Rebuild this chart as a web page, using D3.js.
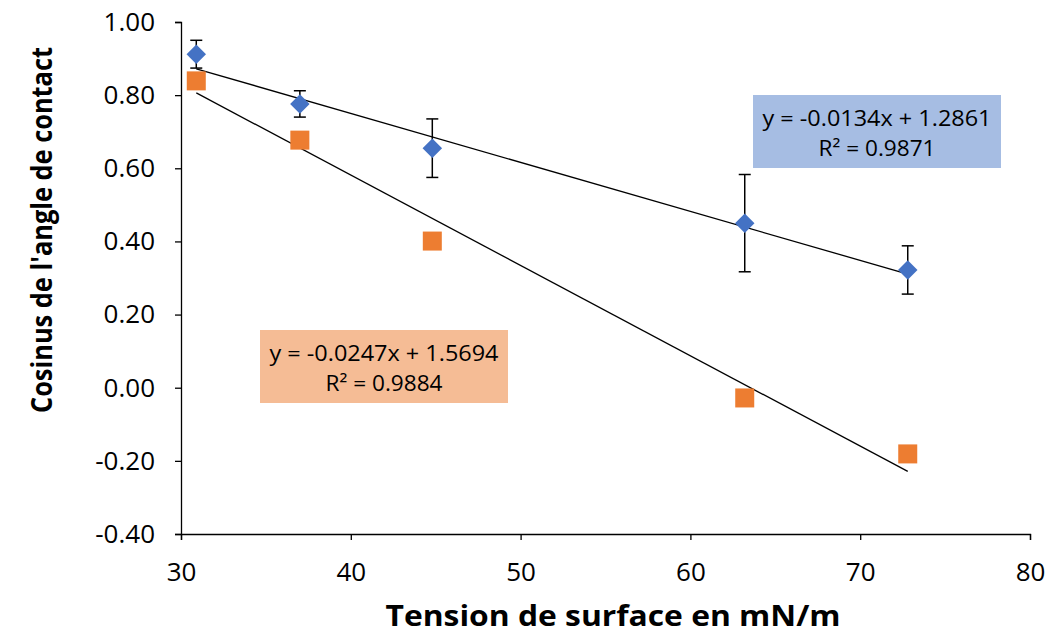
<!DOCTYPE html>
<html>
<head>
<meta charset="utf-8">
<script src="https://cdn.jsdelivr.net/npm/d3@7"></script>
<style>
  body { margin: 0; background: #fff; }
  text { font-family: "Open Sans", "Noto Sans", sans-serif; fill: #000; }
</style>
</head>
<body>
<svg id="chart" width="1049" height="636"></svg>
<script>
// surface tension (mN/m) and cos(theta)
var tension = [30.9, 37.0, 44.8, 63.2, 72.8];
var cosBlue = [0.912, 0.776, 0.655, 0.450, 0.322];
var errBlue = [0.038, 0.036, 0.080, 0.133, 0.066];
var cosOrange = [0.839, 0.677, 0.401, -0.028, -0.181];

var xTicks = [30, 40, 50, 60, 70, 80];
var yTicks = [-0.40, -0.20, 0.00, 0.20, 0.40, 0.60, 0.80, 1.00];

// trendline coefficients, as printed on the chart
var fitBlue = {slope: -0.0134, icpt: 1.2861, r2: "0.9871"};
var fitOrange = {slope: -0.0247, icpt: 1.5694, r2: "0.9884"};

var svg = d3.select("#chart");

var x = d3.scaleLinear().domain([30, 80]).range([181, 1030]);
var y = d3.scaleLinear().domain([-0.40, 1.00]).range([534, 22]);

// axes
var xAxis = svg.append("g")
    .attr("transform", "translate(0," + y(-0.40) + ")")
    .call(d3.axisBottom(x).tickValues(xTicks).tickSize(6).tickPadding(23).tickFormat(d3.format("d")));
var yAxis = svg.append("g")
    .attr("transform", "translate(" + x(30) + ",0)")
    .call(d3.axisLeft(y).tickValues(yTicks).tickSize(6).tickPadding(20).tickFormat(d3.format(".2f")));

[xAxis, yAxis].forEach(function(a) {
  a.attr("font-size", null).attr("font-family", null);
  a.select(".domain").attr("stroke", "#000").attr("stroke-width", 1.3);
  a.selectAll(".tick line").attr("stroke", "#000").attr("stroke-width", 1.3);
  a.selectAll(".tick text").style("font-size", "26px").attr("fill", "#000");
});
yAxis.selectAll(".tick text").text(function(d) { return d3.format(".2f")(d).replace("−", "-"); });

// trendlines
function trend(fit) {
  var x0 = d3.min(tension), x1 = d3.max(tension);
  return [[x0, fit.slope * x0 + fit.icpt], [x1, fit.slope * x1 + fit.icpt]];
}
var line = d3.line().x(function(d) { return x(d[0]); }).y(function(d) { return y(d[1]); });

svg.append("path").attr("d", line(trend(fitBlue)))
    .attr("fill", "none").attr("stroke", "#000").attr("stroke-width", 1.3);
svg.append("path").attr("d", line(trend(fitOrange)))
    .attr("fill", "none").attr("stroke", "#000").attr("stroke-width", 1.3);

// error bars for blue series
var eb = svg.append("g").attr("stroke", "#000").attr("stroke-width", 1.5);
tension.forEach(function(t, i) {
  var top = y(cosBlue[i] + errBlue[i]), bot = y(cosBlue[i] - errBlue[i]);
  eb.append("line").attr("x1", x(t)).attr("x2", x(t)).attr("y1", top).attr("y2", bot);
  eb.append("line").attr("x1", x(t) - 6).attr("x2", x(t) + 6).attr("y1", top).attr("y2", top);
  eb.append("line").attr("x1", x(t) - 6).attr("x2", x(t) + 6).attr("y1", bot).attr("y2", bot);
});

// orange squares
svg.append("g").selectAll("rect")
    .data(tension)
  .enter().append("rect")
    .attr("x", function(d) { return x(d) - 9.5; })
    .attr("y", function(d, i) { return y(cosOrange[i]) - 9.5; })
    .attr("width", 19).attr("height", 19)
    .attr("fill", "#ED7D31");

// blue diamonds
var diamond = d3.symbol().type(d3.symbolSquare).size(190);
svg.append("g").selectAll("path")
    .data(tension)
  .enter().append("path")
    .attr("d", diamond)
    .attr("transform", function(d, i) { return "translate(" + x(d) + "," + y(cosBlue[i]) + ") rotate(45)"; })
    .attr("fill", "#4472C4");

// equation labels
function eqBox(left, top, w, h, fill, fit) {
  var g = svg.append("g");
  g.append("rect").attr("x", left).attr("y", top).attr("width", w).attr("height", h).attr("fill", fill);
  var sign = fit.slope < 0 ? "-" : "";
  g.append("text").attr("x", left + w / 2).attr("y", top + 31)
      .attr("text-anchor", "middle").style("font-size", "21px")
      .attr("textLength", 229).attr("lengthAdjust", "spacingAndGlyphs")
      .text("y = " + sign + Math.abs(fit.slope).toFixed(4) + "x + " + fit.icpt.toFixed(4));
  g.append("text").attr("x", left + w / 2).attr("y", top + 61)
      .attr("text-anchor", "middle").style("font-size", "21px")
      .attr("textLength", 117).attr("lengthAdjust", "spacingAndGlyphs")
      .text("R\u00B2 = " + fit.r2);
}
eqBox(753, 95, 248, 73, "#A6BDE3", fitBlue);
eqBox(260, 330, 248, 73, "#F5BC95", fitOrange);

// axis titles
svg.append("text")
    .attr("x", 613).attr("y", 626)
    .attr("text-anchor", "middle")
    .style("font-size", "29px").style("font-weight", "bold")
    .attr("textLength", 455).attr("lengthAdjust", "spacingAndGlyphs")
    .text("Tension de surface en mN/m");
svg.append("text")
    .attr("transform", "translate(52,230) rotate(-90)")
    .attr("text-anchor", "middle")
    .style("font-size", "28px").style("font-weight", "bold")
    .attr("textLength", 366).attr("lengthAdjust", "spacingAndGlyphs")
    .text("Cosinus de l'angle de contact");
</script>
</body>
</html>
